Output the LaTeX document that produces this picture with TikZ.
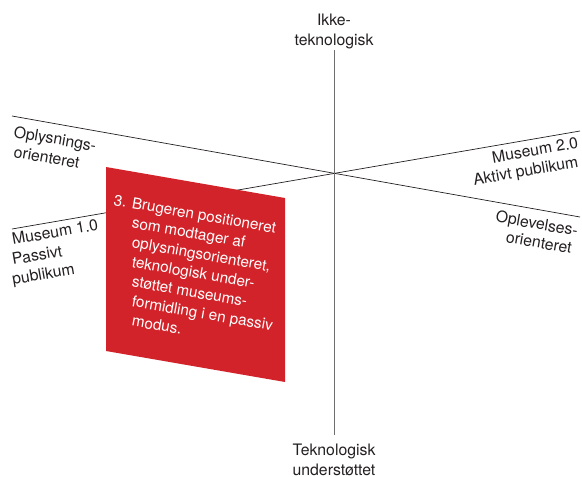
\documentclass[tikz,border=0pt]{standalone}
\usepackage{fontspec}
\setmainfont{TeX Gyre Heros}
\definecolor{panelred}{HTML}{D2232A}
\definecolor{labelgray}{HTML}{231F20}
\definecolor{axisgray}{HTML}{6E6E6E}
\begin{document}
\begin{tikzpicture}[x=1pt,y=-1pt,
  axis/.style={draw=labelgray, line width=0.7pt},
  vaxis/.style={draw=axisgray, line width=1pt},
  lbl/.style={inner sep=0pt, text=labelgray, align=left,
    font=\fontsize{15.8}{20}\selectfont},
  paneltxt/.style={lbl, text=white, anchor=base west,
    font=\fontsize{15.3}{19.5}\selectfont, rotate=-9.93},
  % lines of text that follow a falling or a rising axis
  fall/.style={rotate=-9.93},
  rise/.style={rotate=9.93}]
\useasboundingbox (0,0) rectangle (582,477);

% axis end points
\coordinate (oplL) at (12,116);
\coordinate (oplR) at (580,217);
\coordinate (musL) at (12,229);
\coordinate (musR) at (580,131);
\coordinate (tekT) at (334,50);
\coordinate (tekB) at (334,435);

% the two slanted axes
\draw[axis] (oplL) -- (oplR);
\draw[axis] (musL) -- (musR);

% red panel in front of the Museum axis
\coordinate (p1) at (106,167);
\coordinate (p2) at (285,198);
\coordinate (p3) at (285,382);
\coordinate (p4) at (106,351);
\fill[panelred] (p1) -- (p2) -- (p3) -- (p4) -- cycle;

% vertical axis
\draw[vaxis] (tekT) -- (tekB);

% labels of the vertical axis (anchored on their last line)
\node[lbl, align=center, anchor=base] (ikke) at (334,45) {Ikke-\\teknologisk};
\node[lbl, align=center, anchor=base] (under) at (334,475)
  {\fontsize{15.8}{19}\selectfont Teknologisk\\understøttet};

% labels of the slanted axes, one node per line
\node[lbl, fall, anchor=base west] (oplys1) at (13,137) {Oplysnings-};
\node[lbl, fall, anchor=base west] (oplys2) at (13,157) {orienteret};

\node[lbl, rise, anchor=base west] (mus1a) at (13,245) {Museum 1.0};
\node[lbl, rise, anchor=base west] (mus1b) at (13,265) {Passivt};
\node[lbl, rise, anchor=base west] (mus1c) at (13,285) {publikum};

\node[lbl, rise, anchor=base east] (mus2a) at (579,148) {Museum 2.0};
\node[lbl, rise, anchor=base east] (mus2b) at (579,167) {Aktivt publikum};

\node[lbl, fall, anchor=base] (oplev1) at (536,229) {Oplevelses-};
\node[lbl, fall, anchor=base] (oplev2) at (538,248) {orienteret};

% panel text with a hanging indent
\node[paneltxt] (pl1) at (113,205.0) {3. Brugeren positioneret};
\node[paneltxt] (pl2) at (113,224.6) {\hphantom{3. }som modtager af};
\node[paneltxt] (pl3) at (113,244.2) {\hphantom{3. }oplysningsorienteret,};
\node[paneltxt] (pl4) at (113,263.8) {\hphantom{3. }teknologisk under-};
\node[paneltxt] (pl5) at (113,283.4) {\hphantom{3. }støttet museums-};
\node[paneltxt] (pl6) at (113,303.0) {\hphantom{3. }formidling i en passiv};
\node[paneltxt] (pl7) at (113,322.6) {\hphantom{3. }modus.};
\end{tikzpicture}
\end{document}
